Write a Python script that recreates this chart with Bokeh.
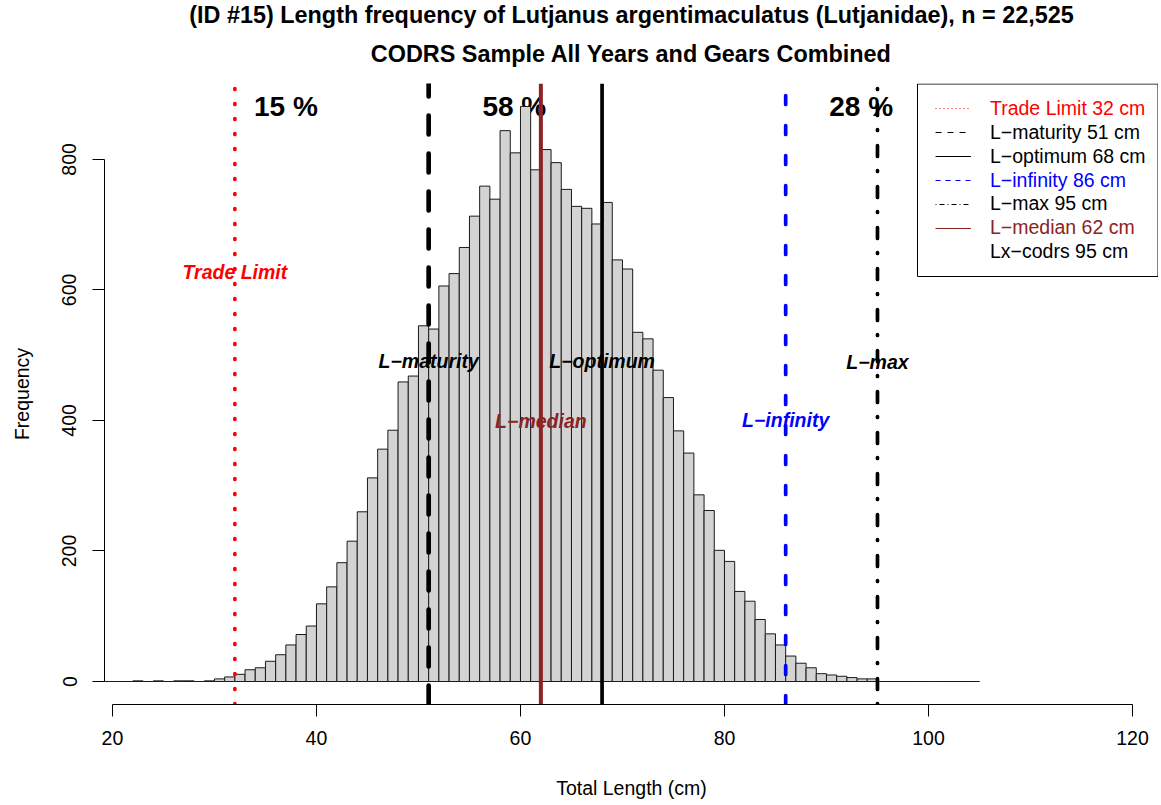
from bokeh.plotting import figure
from bokeh.models import (Range1d, FixedTicker, Title, Legend, LegendItem,
                          BoxAnnotation, ColumnDataSource)
from bokeh.core.properties import value
from bokeh.embed import file_html
from bokeh.resources import INLINE

# ---------------- data ----------------
TITLE_1 = "(ID #15) Length frequency of Lutjanus argentimaculatus (Lutjanidae), n = 22,525"
TITLE_2 = "CODRS Sample All Years and Gears Combined"
X_LABEL = "Total Length (cm)"
Y_LABEL = "Frequency"

bin_starts = list(range(19, 105))          # 1 cm bins, left edges
counts = [
    0, 0, 0, 1, 0, 1, 0, 1, 1, 0, 1,                       # 19-29
    4, 7, 11, 18, 21, 31, 41, 56, 72, 85,                  # 30-39
    119, 145, 182, 215, 260, 312, 356, 385, 459, 468,      # 40-49
    545, 540, 606, 625, 665, 713, 759, 739, 844, 810,      # 50-59
    881, 784, 815, 795, 754, 728, 725, 701, 734, 646,      # 60-69
    632, 535, 525, 477, 435, 384, 350, 286, 262, 201,      # 70-79
    184, 138, 123, 95, 73, 56, 39, 28, 21, 12,             # 80-89
    10, 8, 6, 4, 4,                                        # 90-94
    0, 0, 0, 0, 0, 0, 0, 0, 0, 0,                          # 95-104
]
x_ticks = [20, 40, 60, 80, 100, 120]
y_ticks = [0, 200, 400, 600, 800]

ref_names = ["Trade Limit", "L\u2212maturity", "L\u2212optimum", "L\u2212infinity", "L\u2212max", "L\u2212median"]
ref_values = [32, 51, 68, 86, 95, 62]
ref_colors = ["#FF0000", "#000000", "#000000", "#0000FF", "#000000", "#8B2323"]
ref_label_y = [628, 491, 491, 401, 490, 399]

legend_labels = ["Trade Limit 32 cm", "L\u2212maturity 51 cm", "L\u2212optimum 68 cm",
                 "L\u2212infinity 86 cm", "L\u2212max 95 cm", "L\u2212median 62 cm",
                 "Lx\u2212codrs 95 cm"]
legend_colors = ["#FF0000", "#000000", "#000000", "#0000FF", "#000000", "#8B2323", "#000000"]

pct_labels = ["15 %", "58 %", "28 %"]
pct_x = [37.0, 59.4, 93.4]

# ---------------- styles ----------------
FONT = "Liberation Sans"
BASE = "19.5px"
TITLE_SIZE = "23.4px"
line_styles = [
    dict(line_width=3.7, line_dash="1 14", line_cap="round"),
    dict(line_width=4.7, line_dash="19 19", line_cap="round"),
    dict(line_width=3.7, line_dash="solid", line_cap="butt"),
    dict(line_width=3.7, line_dash="9 21", line_cap="round"),
    dict(line_width=3.7, line_dash="1 14 11 15", line_cap="round"),
    dict(line_width=4.0, line_dash="solid", line_cap="butt"),
]
legend_styles = [
    dict(line_dash="1 3"), dict(line_dash="6 6"), dict(line_dash="solid"),
    dict(line_dash="5 5"), dict(line_dash="1 3 5 3"), dict(line_dash="solid"),
    dict(line_dash="solid", line_alpha=0.0),
]

ymax = max(counts)
X0, X1 = 19.22, 122.55
Y0, Y1 = -0.04 * ymax, 1.04 * ymax

FR_L, FR_T, FR_W, FR_H = 104, 83, 1054, 621   # page pixels of the plot frame
W, H = 1158, 803


def xd(px):
    return X0 + (px - FR_L) / FR_W * (X1 - X0)


def yd(py):
    return Y0 + (FR_T + FR_H - py) / FR_H * (Y1 - Y0)


p = figure(width=W, height=H, output_backend="svg", toolbar_location=None,
           x_range=Range1d(X0, X1), y_range=Range1d(Y0, Y1),
           min_border_left=FR_L, min_border_right=W - FR_L - FR_W,
           min_border_top=FR_T, min_border_bottom=H - FR_T - FR_H)
p.outline_line_color = None
p.xgrid.visible = False
p.ygrid.visible = False
p.background_fill_color = "white"
p.border_fill_color = "white"

# titles
p.title.text = TITLE_1
p.title.align = "center"
p.title.vertical_align = "top"
p.title.text_font = FONT
p.title.text_font_size = TITLE_SIZE
p.title.text_font_style = "bold"
p.title.text_color = "black"
p.title.standoff = -6
t2 = Title(text=TITLE_2, align="center", vertical_align="top", text_font=FONT,
           text_font_size=TITLE_SIZE, text_font_style="bold", text_color="black",
           standoff=29)
p.add_layout(t2, "above")

# axes
for ax in (p.xaxis[0], p.yaxis[0]):
    ax.minor_tick_line_color = None
    ax.major_tick_in = 0
    ax.major_tick_out = 12
    ax.axis_line_color = "black"
    ax.major_tick_line_color = "black"
    ax.major_label_text_font = FONT
    ax.major_label_text_font_size = BASE
    ax.major_label_text_color = "black"
    ax.axis_label_text_font = FONT
    ax.axis_label_text_font_size = BASE
    ax.axis_label_text_font_style = "normal"
    ax.axis_label_text_color = "black"

p.xaxis.ticker = FixedTicker(ticks=x_ticks)
p.xaxis.bounds = (x_ticks[0], x_ticks[-1])
p.xaxis.axis_label = X_LABEL
p.xaxis.major_label_standoff = 14
p.xaxis.axis_label_standoff = 29

p.yaxis.ticker = FixedTicker(ticks=y_ticks)
p.yaxis.bounds = (y_ticks[0], y_ticks[-1])
p.yaxis.axis_label = Y_LABEL
p.yaxis.major_label_orientation = "vertical"
p.yaxis.major_label_standoff = 16
p.yaxis.axis_label_standoff = 27

# percentage labels (under the bars)
p.text(x=pct_x, y=[ymax] * len(pct_x), text=pct_labels,
       text_font=value(FONT), text_font_size="28px", text_font_style="bold",
       text_align="center", text_baseline="middle", text_color="black")

# histogram
edges_r = [b + 1 for b in bin_starts]
p.quad(left=bin_starts, right=edges_r, bottom=[0] * len(counts), top=counts,
       fill_color="#D3D3D3", line_color="#1a1a1a", line_width=1)

# reference lines
for v, c, st in zip(ref_values, ref_colors, line_styles):
    p.segment(x0=[v], x1=[v], y0=[Y0], y1=[Y1], line_color=c, **st)

# reference labels
src = ColumnDataSource(dict(x=ref_values, y=ref_label_y, t=ref_names, c=ref_colors))
p.text(x="x", y="y", text="t", text_color="c", source=src,
       text_font=value(FONT), text_font_size=BASE, text_font_style="bold italic",
       text_align="center", text_baseline="middle")

# legend box
box = BoxAnnotation(left=xd(917), right=xd(1157.5), top=yd(83.5), bottom=yd(276),
                    fill_color="white", fill_alpha=1.0, line_color="black",
                    line_width=1, line_alpha=1.0)
p.add_layout(box)

# legend entries (one legend per entry so each label keeps its own colour)
nan = float("nan")
row0, row_step = 108.3, 23.9
for i, (lab, col, st) in enumerate(zip(legend_labels, legend_colors, legend_styles)):
    dummy = p.line(x=[nan], y=[nan], line_color=col, line_width=1.2, **st)
    yc = row0 + row_step * i
    leg = Legend(items=[LegendItem(label=lab, renderers=[dummy])],
                 location=(935 - FR_L, (FR_T + FR_H) - (yc + 12)),
                 padding=0, margin=0, spacing=0,
                 glyph_width=36, glyph_height=24, label_height=24,
                 label_standoff=19,
                 label_text_font=FONT, label_text_font_size=BASE,
                 label_text_color=col,
                 border_line_alpha=0, background_fill_alpha=0)
    p.add_layout(leg)

open("out.html", "w").write(file_html(p, INLINE))
